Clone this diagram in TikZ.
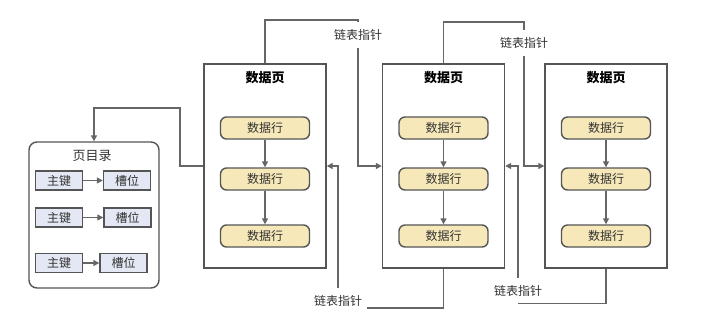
\documentclass[tikz,border=0pt]{standalone}
\usepackage{fontspec}
\setmainfont{Noto Sans CJK SC}
\usetikzlibrary{arrows.meta}
\definecolor{lineGray}{HTML}{666666}
\definecolor{boxGray}{HTML}{555555}
\definecolor{rowFill}{HTML}{F6E8B8}
\definecolor{keyFill}{HTML}{E4E8F4}
\definecolor{txtGray}{HTML}{333333}

\begin{document}
\begin{tikzpicture}[>={Triangle[length=6pt,width=6pt]}, x=1pt, y=-1pt,
  link/.style={draw=lineGray, line width=1.4pt},
  page/.style={draw=boxGray, line width=1.4pt, fill=white,
               minimum width=122pt, minimum height=204pt},
  pagetitle/.style={font=\fontsize{13pt}{15pt}\selectfont\bfseries, text=black},
  datarow/.style={draw=boxGray, line width=1.4pt, fill=rowFill, rounded corners=6pt,
                  minimum width=89pt, minimum height=22pt,
                  font=\fontsize{12pt}{14pt}\selectfont, text=txtGray},
  dirbox/.style={draw=boxGray, line width=1.4pt, fill=white, rounded corners=8pt,
                 minimum width=130pt, minimum height=146pt},
  keybox/.style={draw=boxGray, line width=1.4pt, fill=keyFill,
                 minimum width=47pt, minimum height=19pt,
                 font=\fontsize{12pt}{14pt}\selectfont, text=txtGray},
  ptr/.style={inner xsep=5pt, inner ysep=7pt, font=\fontsize{12pt}{14pt}\selectfont, text=txtGray}]
  \useasboundingbox (0,0) rectangle (703,325);

  \foreach \i/\px in {1/265,2/443.5,3/606}{
    \node[page] (p\i) at (\px,166) {};
    \node[pagetitle] (t\i) at (\px,78) {数据页};
    \foreach \j/\ry in {1/128,2/179,3/236}
      \node[datarow] (r\i\j) at (\px,\ry) {数据行};
    \draw[link,->] (r\i1) -- (r\i2);
    \draw[link,->] (r\i2) -- (r\i3);
  }

  \node[dirbox] (dir) at (94,215) {};
  \node[font=\fontsize{13pt}{15pt}\selectfont, text=txtGray] (dirtitle) at (92,156) {页目录};
  \foreach \k/\ky/\sx in {1/180.5/127,2/217.5/127.5,3/263/123.5}{
    \node[keybox] (key\k) at (59,\ky) {主键};
    \node[keybox] (slot\k) at (\sx,\ky) {槽位};
    \draw[link,->] (key\k) -- (slot\k);
  }

  \coordinate (turn) at (180,108);
  \draw[link,->] (p1.west) -| (turn) -| (dir.north);

  \node[ptr] (ptrTop1) at (358,35) {链表指针};
  \node[ptr] (ptrTop2) at (524,43) {链表指针};
  \node[ptr] (ptrBot2) at (338,301) {链表指针};
  \node[ptr] (ptrBot3) at (518,291) {链表指针};

  \draw[link] (p1.north) -- (p1.north |- 0,20) -| (ptrTop1.north);
  \draw[link,->] (ptrTop1.south) |- (p2.west);
  \draw[link] (p2.north) -- (p2.north |- 0,22) -| (ptrTop2.north);
  \draw[link,->] (ptrTop2.south) |- (p3.west);
  \draw[link] (p3.south) |- (ptrBot3.south);
  \draw[link,->] (ptrBot3.north) |- (p2.east);
  \draw[link] (p2.south) -- (p2.south |- 0,308) -- (ptrBot2.east |- 0,308);
  \draw[link,->] (ptrBot2.north) |- (p1.east);
\end{tikzpicture}
\end{document}
